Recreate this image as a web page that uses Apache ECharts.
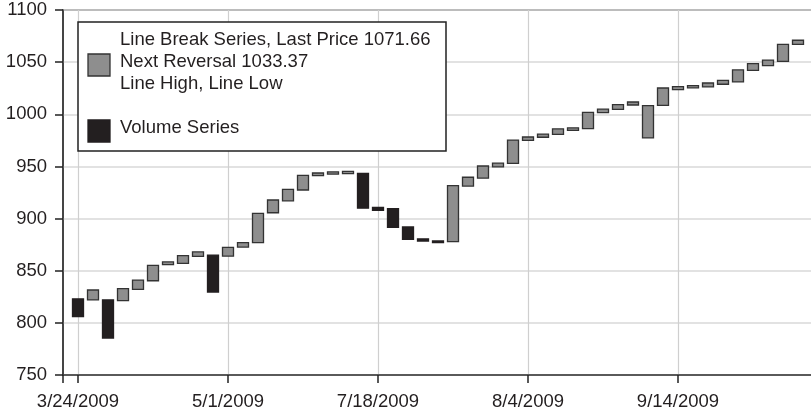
<!DOCTYPE html>
<html lang="en">
<head>
    <meta charset="UTF-8">
    <title>Line Break Chart</title>
    <script src="https://cdn.jsdelivr.net/npm/echarts@6/dist/echarts.min.js"></script>
    <style>
        html, body { margin: 0; padding: 0; background: #fff; }
        #chart { width: 811px; height: 414px; }
    </style>
</head>
<body>
    <div id="chart"></div>
<script>
    // brick bottoms / tops (one brick per slot)
    var brickLow = [806, 822, 785.5, 821.3, 832.2, 840.4, 855.8, 857.1, 863.8, 829.6,
        864, 872.7, 877, 905.6, 917, 927.4, 941.1, 942.7, 943.1, 910,
        908, 891.6, 880, 878.5, 877, 877.9, 931.2, 938.8, 949.6, 953,
        975, 978, 980.7, 984.6, 986.2, 1001.5, 1004.8, 1008.9, 977.3, 1008.6,
        1023.6, 1025.4, 1026.2, 1028.8, 1031, 1042.2, 1046.6, 1050.8, 1067];
    var brickHigh = [823, 831.5, 822, 832.8, 841, 855.2, 858.4, 864.4, 868, 865,
        872.4, 877, 905, 917.8, 928, 941.5, 943.7, 944.7, 945.3, 943.4,
        910.8, 909.5, 891.9, 880.5, 878.5, 931.6, 939.6, 950.4, 953.2, 975.3,
        978.2, 981, 986, 987, 1001.9, 1005, 1009.2, 1011.8, 1008.3, 1025.2,
        1026.5, 1027.5, 1030, 1032.6, 1042.5, 1048.5, 1052, 1067.1, 1071];
    // 'U' = line break (grey), 'D' = volume (black)
    var brickDir = ['D', 'U', 'D', 'U', 'U', 'U', 'U', 'U', 'U', 'D',
        'U', 'U', 'U', 'U', 'U', 'U', 'U', 'U', 'U', 'D',
        'D', 'D', 'D', 'D', 'D', 'U', 'U', 'U', 'U', 'U',
        'U', 'U', 'U', 'U', 'U', 'U', 'U', 'U', 'U', 'U',
        'U', 'U', 'U', 'U', 'U', 'U', 'U', 'U', 'U'];

    var tickDates = ['3/24/2009', '5/1/2009', '7/18/2009', '8/4/2009', '9/14/2009'];
    var tickEvery = 10;
    var yTicks = [750, 800, 850, 900, 950, 1000, 1050, 1100];

    var legendLines = ['Line Break Series, Last Price 1071.66', 'Next Reversal 1033.37', 'Line High, Line Low'];
    var legendVolume = 'Volume Series';

    // slot 0 is empty padding, bricks sit in slots 1..49, slot 50 padding
    var nSlots = brickLow.length + 2;
    var cats = [];
    for (var i = 0; i < nSlots; i++) cats.push('');
    for (var j = 0; j < tickDates.length; j++) cats[1 + j * tickEvery] = tickDates[j];

    function isTick(idx) {
        return idx === 0 || (idx >= 1 && (idx - 1) % tickEvery === 0 && (idx - 1) / tickEvery < tickDates.length);
    }

    var candles = [];
    for (var k = 0; k < brickLow.length; k++) {
        if (brickDir[k] === 'U') {
            candles.push([k + 1, brickLow[k], brickHigh[k], brickLow[k], brickHigh[k]]);
        } else {
            candles.push([k + 1, brickHigh[k], brickLow[k], brickLow[k], brickHigh[k]]);
        }
    }

    var FONT = '"Liberation Sans", Arial, Helvetica, sans-serif';
    var FS = 18.5;
    var chart = echarts.init(document.getElementById('chart'));

    var option = {
        animation: false,
        backgroundColor: '#fff',
        grid: {
            left: 63, top: 10, width: 750, height: 365,
            outerBoundsMode: 'none',
            containLabel: false,
            show: true, borderColor: '#3a3a3a', borderWidth: 1.5
        },
        xAxis: {
            type: 'category',
            data: cats,
            boundaryGap: false,
            axisLine: { show: true, lineStyle: { color: '#3a3a3a', width: 1.5 } },
            axisTick: { show: true, interval: isTick, length: 8, lineStyle: { color: '#222', width: 1.5 } },
            axisLabel: { interval: 0, margin: 17, color: '#231f20', fontSize: FS, fontFamily: FONT },
            splitLine: { show: true, interval: function (idx) { return idx > 0 && isTick(idx); },
                lineStyle: { color: '#cfcfcf', width: 1.2 } }
        },
        yAxis: {
            type: 'value',
            min: yTicks[0],
            max: yTicks[yTicks.length - 1],
            interval: 50,
            axisLine: { show: true, lineStyle: { color: '#3a3a3a', width: 1.5 } },
            axisTick: { show: true, length: 8, lineStyle: { color: '#222', width: 1.5 } },
            axisLabel: { margin: 16, color: '#231f20', fontSize: FS, fontFamily: FONT, padding: [4, 0, 0, 0],
                formatter: function (v) { return String(v); } },
            splitLine: { show: true, lineStyle: { color: '#d9d9d9', width: 1.6 } }
        },
        series: [{
            type: 'candlestick',
            data: candles,
            encode: { x: 0, y: [1, 2, 3, 4] },
            barWidth: 11,
            itemStyle: {
                color: '#8e8e8e',
                color0: '#231f20',
                borderColor: '#333',
                borderColor0: '#231f20',
                borderWidth: 1.3
            }
        }],
        graphic: [
            { type: 'rect', z: 100, shape: { x: 78, y: 22, width: 368, height: 129 },
              style: { fill: '#fff', stroke: '#222', lineWidth: 1.5 } },
            { type: 'rect', z: 101, shape: { x: 88, y: 54, width: 22, height: 22 },
              style: { fill: '#8e8e8e', stroke: '#333', lineWidth: 1.3 } },
            { type: 'rect', z: 101, shape: { x: 88, y: 120, width: 22, height: 22 },
              style: { fill: '#231f20', stroke: '#231f20', lineWidth: 1.3 } },
            { type: 'text', z: 101, x: 120, y: 40, style: { text: legendLines[0], fill: '#231f20', font: FS + 'px ' + FONT, verticalAlign: 'middle' } },
            { type: 'text', z: 101, x: 120, y: 62, style: { text: legendLines[1], fill: '#231f20', font: FS + 'px ' + FONT, verticalAlign: 'middle' } },
            { type: 'text', z: 101, x: 120, y: 84, style: { text: legendLines[2], fill: '#231f20', font: FS + 'px ' + FONT, verticalAlign: 'middle' } },
            { type: 'text', z: 101, x: 120, y: 128, style: { text: legendVolume, fill: '#231f20', font: FS + 'px ' + FONT, verticalAlign: 'middle' } }
        ]
    };
    chart.setOption(option);
</script>
</body>
</html>
